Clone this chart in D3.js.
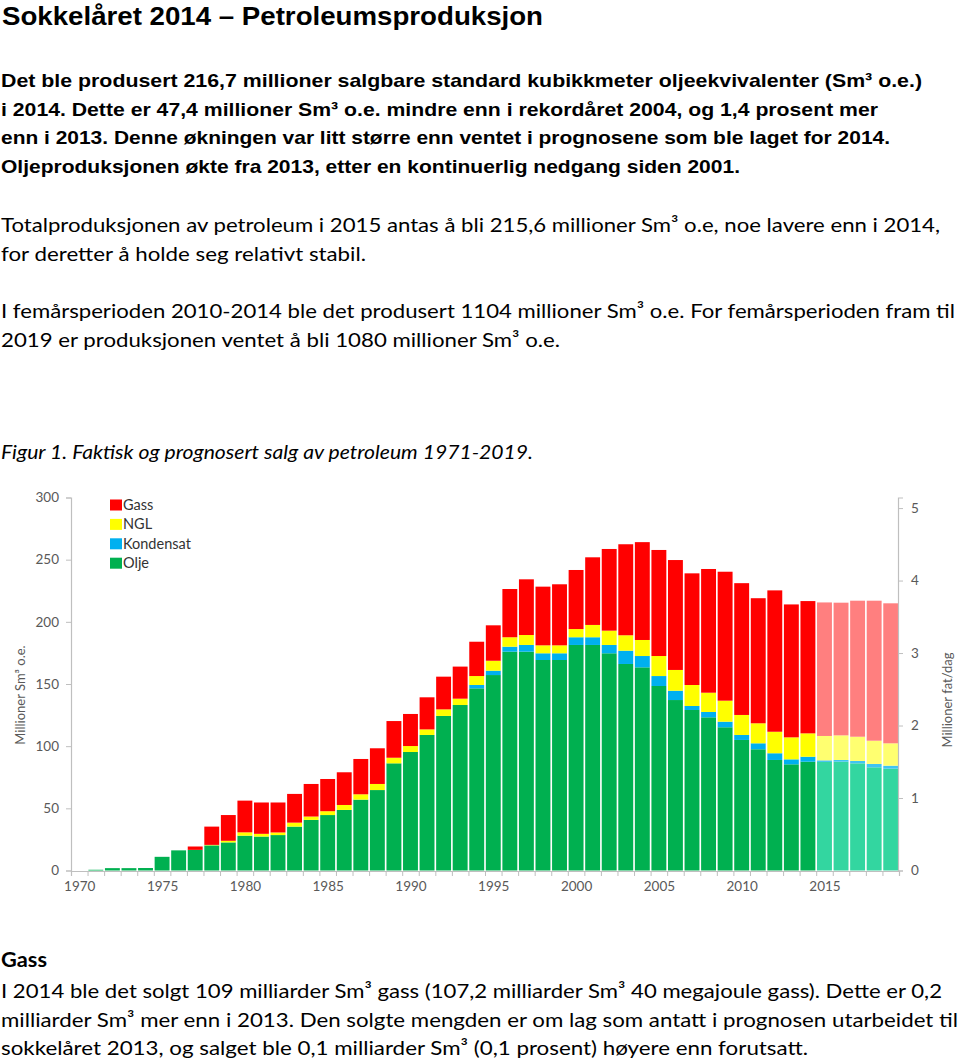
<!DOCTYPE html>
<html><head><meta charset="utf-8">
<script src="https://cdn.jsdelivr.net/npm/d3@7"></script>
<style>body{margin:0;background:#fff}svg{display:block}</style>
</head><body>
<svg id="c" width="960" height="1059"></svg>
<script>
// ---- data (millioner Sm³ o.e.) ----
const years = [1971,1972,1973,1974,1975,1976,1977,1978,1979,1980,1981,1982,1983,1984,1985,1986,1987,1988,1989,1990,
  1991,1992,1993,1994,1995,1996,1997,1998,1999,2000,2001,2002,2003,2004,2005,2006,2007,2008,2009,2010,
  2011,2012,2013,2014,2015,2016,2017,2018,2019];
const olje = [0.6,1.9,1.9,2.0,11.0,16.2,16.6,20.2,22.6,28.0,27.3,28.5,35.3,40.7,44.6,48.7,57.0,64.7,86.2,95.3,
  109.0,124.3,133.1,146.5,157.2,176.0,176.0,169.3,169.3,181.4,181.4,174.7,166.1,163.4,148.4,137.1,129.1,123.2,115.2,105.0,
  97.5,88.9,85.4,87.5,87.3,87.5,86.2,83.0,81.9];
const kondensat = [0,0,0,0,0,0,0,0,0,0,0,0,0,0,0,0,0,0,0,0,
  0,0,0,2.7,3.5,4.0,5.4,5.4,5.4,6.2,6.2,6.7,10.7,9.1,8.0,7.5,3.2,4.3,4.5,4.0,
  4.8,5.4,4.0,4.0,1.3,1.4,1.9,2.7,2.4];
const ngl = [0,0,0,0,0,0,0,0.4,1.3,2.7,2.2,2.1,3.2,2.7,3.1,4.0,4.3,4.9,4.5,4.8,
  4.5,5.3,5.1,7.2,8.0,7.6,8.0,6.4,6.4,6.6,9.9,11.5,12.4,12.9,16.1,16.7,16.9,15.5,16.9,16.1,
  16.1,17.3,17.7,18.8,19.6,19.8,19.5,18.7,18.0];
const gass = [0,0,0,0,0,0,2.7,14.7,20.7,25.5,25.2,24.1,23.1,26.2,25.9,26.3,28.4,28.7,29.5,25.8,
  25.8,26.3,25.8,27.6,28.5,38.8,44.8,47.2,49.1,47.5,54.4,65.7,73.2,78.7,85.3,88.4,89.8,99.5,103.7,106.0,
  100.6,113.7,106.9,106.4,107.4,106.7,109.4,112.6,112.6];
const prognoseFra = 2015;
const axisYears = [1970,1975,1980,1985,1990,1995,2000,2005,2010,2015];
const leftTicks = [0,50,100,150,200,250,300];
const rightTicks = [0,1,2,3,4,5];
const seriesKeys = ["olje","kondensat","ngl","gass"];
const legendNames = ["Gass","NGL","Kondensat","Olje"];
const legendKeys = ["gass","ngl","kondensat","olje"];
const colors = {olje:"#00b050", kondensat:"#00b0f0", ngl:"#ffff00", gass:"#ff0000"};
const colorsPrognose = {olje:"#33d6a0", kondensat:"#40c4f2", ngl:"#ffff70", gass:"#ff7f7f"};
const sm3PerFat = 58.3; // 1 mill. fat/dag ≈ 58.3 mill. Sm³/år

const svg = d3.select("#c");
const FB = "'Liberation Sans', Arial, sans-serif";
const FC = "Lato, 'Open Sans', sans-serif";

// ---- text ----
function line(t, x, y, size, opts={}) {
  const el = svg.append("text").attr("x", x).attr("y", y)
    .attr("font-family", opts.family || FC).attr("font-size", size)
    .attr("font-weight", opts.bold ? "bold" : "normal")
    .attr("font-style", opts.italic ? "italic" : "normal")
    .attr("fill", "#000").text(t);
  if (opts.w) el.attr("textLength", opts.w).attr("lengthAdjust", "spacingAndGlyphs");
  return el;
}
line("Sokkelåret 2014 – Petroleumsproduksjon", 2, 25, 25, {family: FB, bold: true, w: 541});
line("Det ble produsert 216,7 millioner salgbare standard kubikkmeter oljeekvivalenter (Sm³ o.e.)", 1, 87, 18.5, {family: FB, bold: true, w: 921});
line("i 2014. Dette er 47,4 millioner Sm³ o.e. mindre enn i rekordåret 2004, og 1,4 prosent mer", 1, 115.5, 18.5, {family: FB, bold: true, w: 877});
line("enn i 2013. Denne økningen var litt større enn ventet i prognosene som ble laget for 2014.", 1, 144, 18.5, {family: FB, bold: true, w: 889});
line("Oljeproduksjonen økte fra 2013, etter en kontinuerlig nedgang siden 2001.", 1, 172.5, 18.5, {family: FB, bold: true, w: 739});

line("Totalproduksjonen av petroleum i 2015 antas å bli 215,6 millioner Sm³ o.e, noe lavere enn i 2014,", 1, 232, 20, {w: 939});
line("for deretter å holde seg relativt stabil.", 1, 260.5, 20, {w: 365});
line("I femårsperioden 2010-2014 ble det produsert 1104 millioner Sm³ o.e. For femårsperioden fram til", 1, 318, 20, {w: 954});
line("2019 er produksjonen ventet å bli 1080 millioner Sm³ o.e.", 1, 346.5, 20, {w: 559});
line("Figur 1. Faktisk og prognosert salg av petroleum 1971-2019.", 1, 459, 20, {italic: true, w: 532});

line("Gass", 1, 967, 20, {bold: true, w: 46});
line("I 2014 ble det solgt 109 milliarder Sm³ gass (107,2 milliarder Sm³ 40 megajoule gass). Dette er 0,2", 1, 998, 20, {w: 941});
line("milliarder Sm³ mer enn i 2013. Den solgte mengden er om lag som antatt i prognosen utarbeidet til", 1, 1026.5, 20, {w: 957});
line("sokkelåret 2013, og salget ble 0,1 milliarder Sm³ (0,1 prosent) høyere enn forutsatt.", 1, 1055, 20, {w: 807});

// ---- chart ----
const xDomain = [1970].concat(years);
const x = d3.scaleBand().domain(xDomain).range([71, 899]).paddingInner(0.1).paddingOuter(0.05);
const y = d3.scaleLinear().domain([0, 300]).range([870.5, 497.5]);
const yR = d3.scaleLinear().domain([0, 300 / sm3PerFat]).range([870.5, 497.5]);

const rows = years.map((yr, i) => ({year: yr, olje: olje[i], kondensat: kondensat[i], ngl: ngl[i], gass: gass[i]}));
const stacked = d3.stack().keys(seriesKeys)(rows);

const g = svg.append("g");
g.selectAll("g.layer").data(stacked).join("g").attr("class", "layer")
  .selectAll("rect").data(d => d.map(p => ({p, key: d.key})))
  .join("rect")
  .attr("x", d => x(d.p.data.year))
  .attr("width", x.bandwidth())
  .attr("y", d => y(d.p[1]))
  .attr("height", d => Math.max(0, y(d.p[0]) - y(d.p[1])))
  .attr("fill", d => d.p.data.year >= prognoseFra ? colorsPrognose[d.key] : colors[d.key]);

const axisCol = "#bfbfbf", labCol = "#595959";
// left axis
const la = g.append("g").attr("transform", "translate(71,0)")
  .call(d3.axisLeft(y).tickValues(leftTicks).tickSize(5).tickPadding(7));
// right axis
const ra = g.append("g").attr("transform", "translate(898,0)")
  .call(d3.axisRight(yR).tickValues(rightTicks).tickSize(5).tickPadding(8).tickFormat(d3.format("d")));
// bottom axis: ticks at category boundaries
const bx = d3.scaleLinear().domain([1969.5, 2019.5]).range([71, 899]);
const ba = g.append("g").attr("transform", "translate(0,871)")
  .call(d3.axisBottom(bx).tickValues(d3.range(1969.5, 2020, 1)).tickSize(5).tickFormat(""));
g.append("g").attr("transform", "translate(0,871)")
  .call(d3.axisBottom(bx).tickValues(axisYears).tickSize(0).tickPadding(10).tickFormat(d3.format("d")))
  .call(s => s.select(".domain").remove());

[la, ra, ba].forEach(a => { a.select(".domain").attr("stroke", axisCol).attr("stroke-width", 1.2); });
g.selectAll(".tick line").attr("stroke", axisCol);
g.selectAll(".tick text").attr("fill", labCol).attr("font-family", FC).attr("font-size", 13.5);

// axis titles
g.append("text").attr("transform", "translate(25,695) rotate(-90)").attr("text-anchor", "middle")
  .attr("font-family", FC).attr("font-size", 13).attr("fill", labCol).text("Millioner Sm³ o.e.");
g.append("text").attr("transform", "translate(952,700) rotate(-90)").attr("text-anchor", "middle")
  .attr("font-family", FC).attr("font-size", 13).attr("fill", labCol).text("Millioner fat/dag");

// legend
const leg = g.append("g");
legendKeys.forEach((k, i) => {
  const yy = 505 + i * 19.4;
  leg.append("rect").attr("x", 110).attr("y", yy - 5.5).attr("width", 12).attr("height", 11).attr("fill", colors[k]);
  leg.append("text").attr("x", 123).attr("y", yy + 5).attr("font-family", FC).attr("font-size", 14.5)
    .attr("fill", "#333").text(legendNames[i]);
});
</script>
</body></html>
